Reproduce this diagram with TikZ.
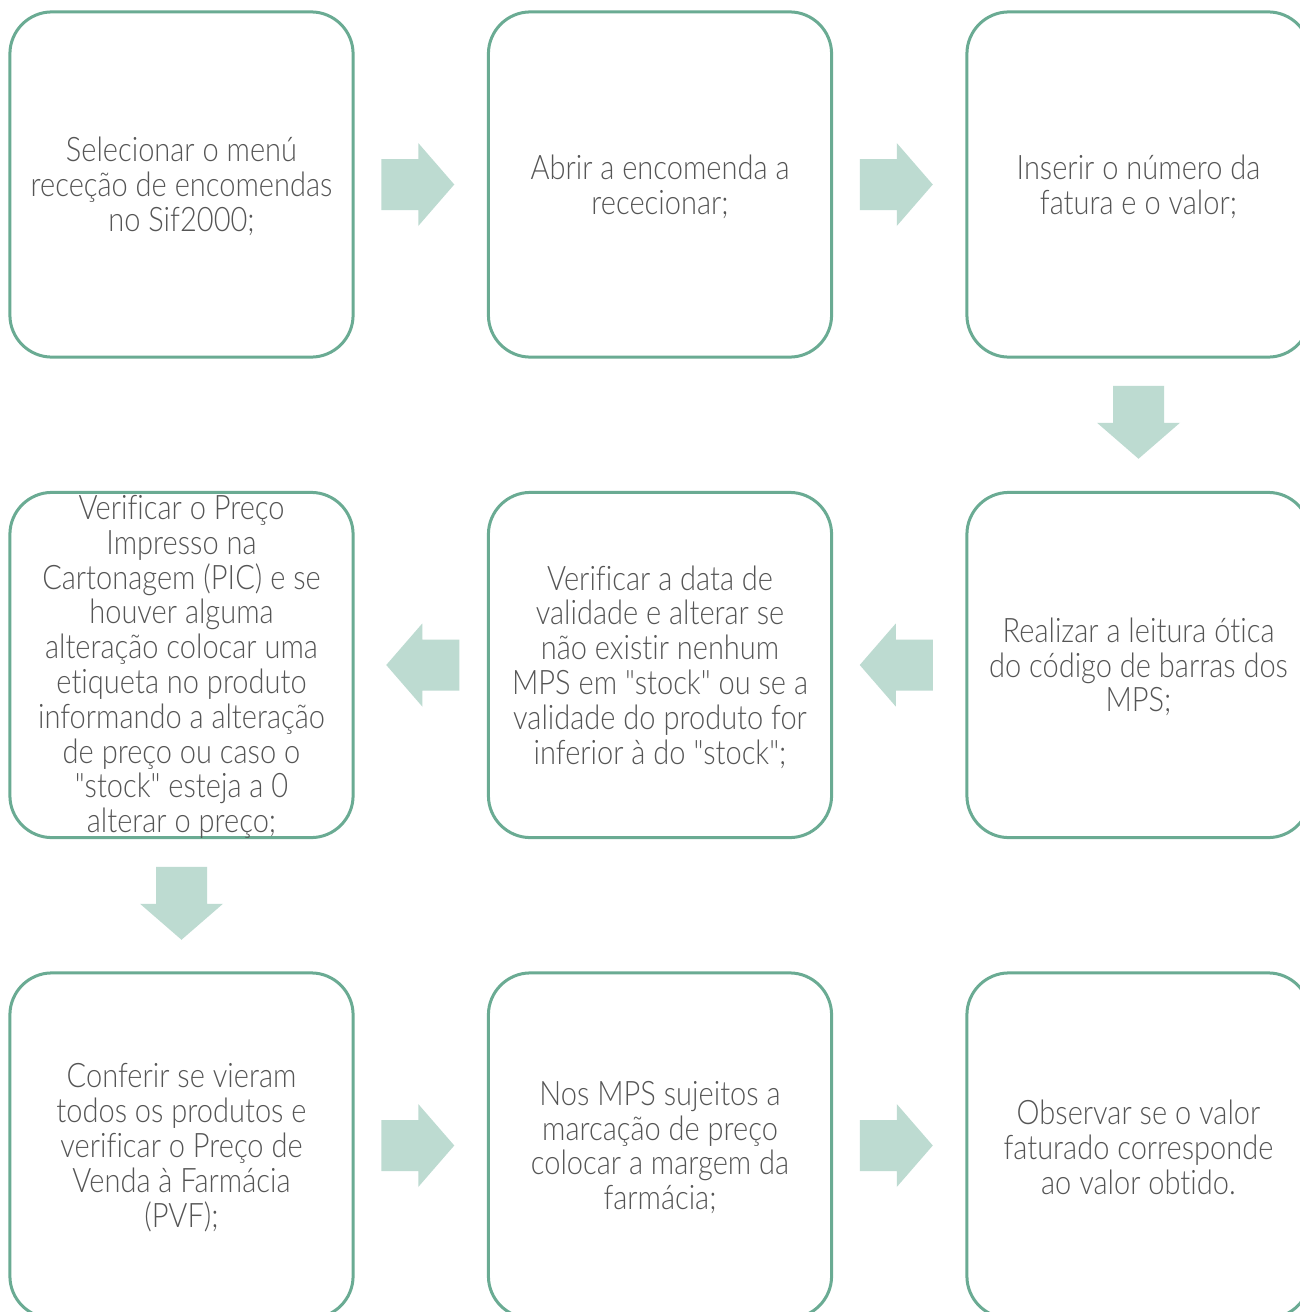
\documentclass[tikz,border=0pt]{standalone}
\usepackage{fontspec}
\newfontfamily\stepfont{Lato}[UprightFont=* Light, FakeStretch=0.86, Ligatures=NoCommon]
\usetikzlibrary{calc}
\definecolor{boxline}{HTML}{6AAB93}
\definecolor{arrowfill}{HTML}{BDDBD1}
\definecolor{txtgray}{HTML}{555555}
\tikzset{
  stepbox/.style={draw=boxline, line width=0.03cm, rounded corners=0.42cm,
    minimum width=3.43cm, minimum height=3.45cm, inner sep=0pt},
  steptext/.style={align=center, text=txtgray, inner sep=0pt, yshift=-0.02cm,
    font=\stepfont\fontsize{9.6pt}{9.9pt}\selectfont},
  rarrow/.pic={\fill[arrowfill] (-36.5,-25.5) -- (0.5,-25.5) -- (0.5,-41.5) -- (36.5,0)
     -- (0.5,41.5) -- (0.5,25.5) -- (-36.5,25.5) -- cycle;},
  larrow/.pic={\fill[arrowfill] (36.5,-25.5) -- (-0.5,-25.5) -- (-0.5,-41.5) -- (-36.5,0)
     -- (-0.5,41.5) -- (-0.5,25.5) -- (36.5,25.5) -- cycle;},
  darrow/.pic={\fill[arrowfill] (-25.5,-36.5) -- (-25.5,0.5) -- (-41.5,0.5) -- (0,36.5)
     -- (41.5,0.5) -- (25.5,0.5) -- (25.5,-36.5) -- cycle;},
}
\begin{document}
\begin{tikzpicture}[x=0.01cm, y=-0.01cm]
\path[use as bounding box, clip] (0,0) rectangle (1300,1312);
\fill[white] (0,0) rectangle (1300,1312);

% boxes
\node[stepbox] (b1) at (181.5,184.5) {};
\node[stepbox] (b2) at (660,184.5) {};
\node[stepbox] (b3) at (1138.5,184.5) {};
\node[stepbox] (b4) at (181.5,665) {};
\node[stepbox] (b5) at (660,665) {};
\node[stepbox] (b6) at (1138.5,665) {};
\node[stepbox] (b7) at (181.5,1145.5) {};
\node[stepbox] (b8) at (660,1145.5) {};
\node[stepbox] (b9) at (1138.5,1145.5) {};

% texts
\node[steptext] (t1) at (b1) {Selecionar o menú\\receção de encomendas\\no Sif2000;};
\node[steptext] (t2) at (b2) {Abrir a encomenda a\\rececionar;};
\node[steptext] (t3) at (b3) {Inserir o número da\\fatura e o valor;};
\node[steptext] (t4) at (b4) {Verificar o Preço\\Impresso na\\Cartonagem (PIC) e se\\houver alguma\\alteração colocar uma\\etiqueta no produto\\informando a alteração\\de preço ou caso o\\"stock" esteja a 0\\alterar o preço;};
\node[steptext] (t5) at (b5) {Verificar a data de\\validade e alterar se\\não existir nenhum\\MPS em "stock" ou se a\\validade do produto for\\inferior à do "stock";};
\node[steptext] (t6) at (b6) {Realizar a leitura ótica\\do código de barras dos\\MPS;};
\node[steptext] (t7) at (b7) {Conferir se vieram\\todos os produtos e\\verificar o Preço de\\Venda à Farmácia\\(PVF);};
\node[steptext] (t8) at (b8) {Nos MPS sujeitos a\\marcação de preço\\colocar a margem da\\farmácia;};
\node[steptext] (t9) at (b9) {Observar se o valor\\faturado corresponde\\ao valor obtido.};

% block arrows between the steps
\pic at ($(b1.east)!0.5!(b2.west)+(-3,0)$) {rarrow};
\pic at ($(b2.east)!0.5!(b3.west)+(-3,0)$) {rarrow};
\pic at ($(b3.south)!0.5!(b6.north)+(0,-2.5)$) {darrow};
\pic at ($(b6.west)!0.5!(b5.east)+(-3,0)$) {larrow};
\pic at ($(b5.west)!0.5!(b4.east)+(2,0)$) {larrow};
\pic at ($(b4.south)!0.5!(b7.north)+(0,-2)$) {darrow};
\pic at ($(b7.east)!0.5!(b8.west)+(-3,0)$) {rarrow};
\pic at ($(b8.east)!0.5!(b9.west)+(-3,0)$) {rarrow};
\end{tikzpicture}
\end{document}
